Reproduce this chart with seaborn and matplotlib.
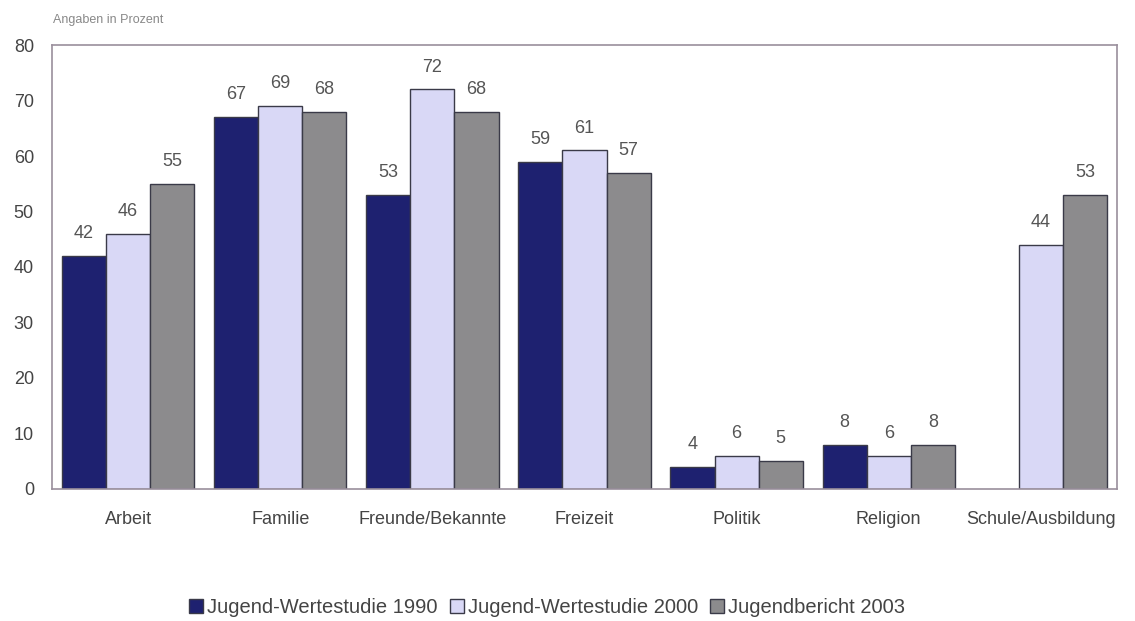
import numpy as np
import pandas as pd
import matplotlib
matplotlib.use("Agg")
import matplotlib.pyplot as plt
import seaborn as sns

categories = ["Arbeit", "Familie", "Freunde/Bekannte", "Freizeit", "Politik", "Religion", "Schule/Ausbildung"]
series_names = ["Jugend-Wertestudie 1990", "Jugend-Wertestudie 2000", "Jugendbericht 2003"]
values_1990 = [42, 67, 53, 59, 4, 8, np.nan]
values_2000 = [46, 69, 72, 61, 6, 6, 44]
values_2003 = [55, 68, 68, 57, 5, 8, 53]
colors = ["#1e2170", "#d9d8f6", "#8c8b8d"]
y_ticks = [0, 10, 20, 30, 40, 50, 60, 70, 80]

df = pd.DataFrame({
    "Kategorie": categories * 3,
    "Studie": [series_names[0]] * 7 + [series_names[1]] * 7 + [series_names[2]] * 7,
    "Wert": values_1990 + values_2000 + values_2003,
})

sns.set_theme(style="white")
plt.rcParams["font.family"] = ["Liberation Sans", "DejaVu Sans"]

fig = plt.figure(figsize=(11.35, 6.21), dpi=100)
ax = fig.add_axes([0.0458, 0.2126, 0.9383, 0.7149])

sns.barplot(data=df, x="Kategorie", y="Wert", hue="Studie", order=categories,
            hue_order=series_names, palette=colors, width=0.87, gap=0,
            edgecolor="#3a3a48", linewidth=1.0, saturation=1, ax=ax, legend=True)

text_gray = "#555555"
for cont in ax.containers:
    labels = ["" if np.isnan(v) else f"{int(v)}" for v in cont.datavalues]
    ax.bar_label(cont, labels=labels, padding=10, fontsize=13, color=text_gray)

ax.set_ylim(0, 80)
ax.set_xlim(-0.5, 6.5)
ax.set_yticks(y_ticks)
ax.set_yticklabels([str(t) for t in y_ticks], fontsize=13, color="#444444")
ax.tick_params(axis="y", length=0, pad=13)
ax.tick_params(axis="x", length=0, pad=16, labelsize=13, labelcolor="#444444")
ax.set_xlabel("")
ax.set_ylabel("")
for s in ax.spines.values():
    s.set_color("#9a8f9c")
    s.set_linewidth(1.2)

fig.text(0.047, 0.967, "Angaben in Prozent", fontsize=9, color="#888888", ha="left", va="center")

handles, labels = ax.get_legend_handles_labels()
ax.get_legend().remove()
fig.legend(handles, labels, loc="center", bbox_to_anchor=(0.482, 0.021), ncol=3,
           frameon=False, fontsize=14.5, handlelength=0.7, handleheight=0.7,
           handletextpad=0.2, columnspacing=0.6, labelcolor="#444444")

fig.savefig("out.png", dpi=100, facecolor="white")
